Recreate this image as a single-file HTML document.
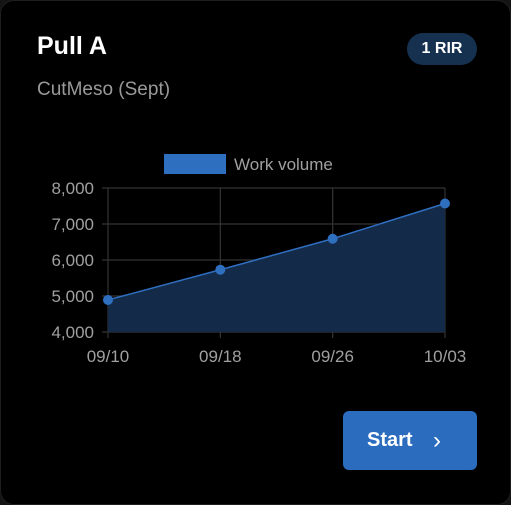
<!DOCTYPE html>
<html><head><meta charset="utf-8"><style>
html,body{margin:0;padding:0;width:511px;height:505px;background:#141414;overflow:hidden}
.card{position:absolute;left:0;top:0;width:509px;height:503px;background:#000;border:1px solid #1e1e1e;border-radius:14px;font-family:"Liberation Sans",sans-serif}
.title{position:absolute;left:36px;top:31px;color:#fff;font-size:25px;font-weight:bold}
.sub{position:absolute;left:36px;top:78px;color:#9a9a9a;font-size:19px}
.badge{position:absolute;left:406px;top:32px;width:70px;height:32px;border-radius:16px;background:#16304f;color:#fff;font-weight:bold;font-size:16px;line-height:32px;text-align:center}
.btn{position:absolute;left:342px;top:410px;width:134px;height:59px;border-radius:6px;background:#2b6cbf;color:#fff;font-size:20px;line-height:59px;font-weight:bold}
svg{position:absolute;left:0;top:0}
</style></head><body>
<div class="card">
<div class="title">Pull A</div>
<div class="sub">CutMeso (Sept)</div>
<div class="badge">1 RIR</div>
<svg id="chart" width="511" height="400"></svg>
<div class="btn"><span style="position:absolute;left:24px">Start</span><span style="position:absolute;left:90px;font-weight:normal;font-size:24px">&#x203A;</span></div>
</div>
<script>
const categories=["09/10","09/18","09/26","10/03"];
const values=[4890,5730,6590,7570];
const yTicks=[4000,5000,6000,7000,8000];
const tickLabels=["4,000","5,000","6,000","7,000","8,000"];
const svg=document.getElementById('chart');
const NS='http://www.w3.org/2000/svg';
const x0=107,x1=444,yTop=187,yBot=331,yMin=4000,yMax=8000;
const xs=i=>x0+(x1-x0)*i/(categories.length-1);
const ys=v=>yBot-(v-yMin)/(yMax-yMin)*(yBot-yTop);
function mk(t,a){const e=document.createElementNS(NS,t);for(const k in a)e.setAttribute(k,a[k]);svg.appendChild(e);return e;}
yTicks.forEach((t,i)=>{
 const g=mk('line',{x1:x0-6,x2:x1,y1:ys(t),y2:ys(t),stroke:'#333','stroke-width':1.2});
 
 
 const l=mk('text',{x:x0-14,y:ys(t)+6,'text-anchor':'end',fill:'#a0a0a0','font-size':17,'font-family':'Liberation Sans, sans-serif'});
 l.textContent=tickLabels[i];
 
 
});
categories.forEach((c,i)=>{
 const g=mk('line',{x1:xs(i),x2:xs(i),y1:yTop,y2:yBot+6,stroke:'#333','stroke-width':1.2});
 
 
 const l=mk('text',{x:xs(i),y:yBot+30,'text-anchor':'middle',fill:'#a0a0a0','font-size':17,'font-family':'Liberation Sans, sans-serif'});
 l.textContent=c;
 
 
});
let d='M'+xs(0)+','+yBot;
values.forEach((v,i)=>d+=' L'+xs(i)+','+ys(v));
d+=' L'+xs(values.length-1)+','+yBot+' Z';
const area=mk('path',{d:d,fill:'#132a48'});


const line=mk('polyline',{points:values.map((v,i)=>xs(i)+','+ys(v)).join(' '),fill:'none',stroke:'#2f6fc0','stroke-width':1.5});


values.forEach((v,i)=>{
 const p=mk('circle',{cx:xs(i),cy:ys(v),r:5,fill:'#2f6fc0'});
 
 
});
const lb=mk('rect',{x:163,y:153,width:62,height:20,fill:'#2f6fc0'});


const lt=mk('text',{x:233,y:169,fill:'#a0a0a0','font-size':17,'font-family':'Liberation Sans, sans-serif'});
lt.textContent='Work volume';


</script>
</body></html>
